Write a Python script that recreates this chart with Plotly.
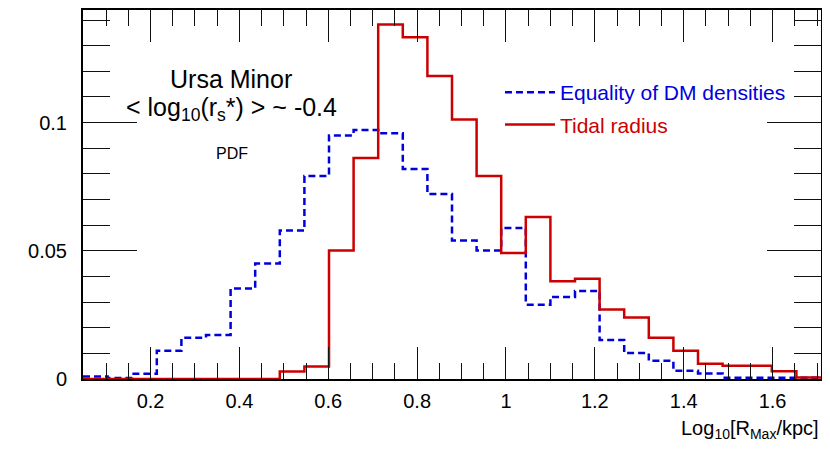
import numpy as np
import plotly.graph_objects as go

# binning of the histograms (30 bins in log10 R_max)
x_min = 0.048
x_max = 1.709
n_bins = 30

# PDF values, one per bin
dm_density = [0.0010, 0.0004, 0.0020, 0.0110, 0.0161, 0.0172, 0.0353, 0.0450,
              0.0579, 0.0792, 0.0950, 0.0971, 0.0958, 0.0819, 0.0721, 0.0540,
              0.0501, 0.0589, 0.0290, 0.0320, 0.0343, 0.0152, 0.0101, 0.0071,
              0.0032, 0.0021, 0.0005, 0.0005, 0.0005, 0.0005]
tidal = [0.0, 0.0, 0.0, 0.0, 0.0, 0.0, 0.0, 0.0,
         0.0029, 0.0049, 0.0501, 0.0862, 0.1382, 0.1333, 0.1182, 0.1012,
         0.0792, 0.0491, 0.0632, 0.0381, 0.0391, 0.0271, 0.0240, 0.0161,
         0.0110, 0.0059, 0.0052, 0.0052, 0.0030, 0.0006]

edges = np.linspace(x_min, x_max, n_bins + 1)

BLUE = '#0000dd'
RED = '#cc0000'


def step_trace(vals, name, color, dash, group):
    """histogram outline drawn as a step line"""
    y = list(vals) + [vals[-1]]
    label = '<span style="color:%s">%s</span>' % (color, name)
    return go.Scatter(x=edges, y=y, mode='lines', name=label, legendgroup=group,
                      line=dict(shape='hv', color=color, width=2.5, dash=dash))


fig = go.Figure()
fig.add_trace(step_trace(dm_density, 'Equality of DM densities', BLUE, '7px,4px', 'dm'))
fig.add_trace(step_trace(tidal, 'Tidal radius', RED, 'solid', 'tidal'))

font = 'Liberation Sans, Arial, sans-serif'
axis_common = dict(showline=True, linecolor='black', linewidth=2, mirror='ticks',
                   ticks='inside', tickcolor='#111', tickwidth=1,
                   showgrid=False, zeroline=False,
                   tickfont=dict(family=font, size=20, color='black'))

fig.update_xaxes(range=[x_min, x_max], tick0=0, dtick=0.2, ticklen=32,
                 minor=dict(dtick=0.05, ticklen=16, tickcolor='#111', ticks='inside'),
                 ticklabelstandoff=3, **axis_common)
fig.update_yaxes(range=[0, 0.1439], tick0=0, dtick=0.05, ticklen=54,
                 minor=dict(dtick=0.01, ticklen=27, tickcolor='#111', ticks='inside'),
                 ticklabelstandoff=10, **axis_common)

fig.add_annotation(text='Log<sub>10</sub>[R<sub>Max</sub>/kpc]', xref='paper', yref='paper',
                   x=1.0, y=-0.138, xanchor='right', yanchor='middle', showarrow=False,
                   font=dict(family=font, size=20, color='black'))
fig.add_annotation(text='Ursa Minor', xref='paper', yref='paper', x=0.201, y=0.812,
                   xanchor='center', yanchor='middle', showarrow=False,
                   font=dict(family=font, size=25, color='black'))
fig.add_annotation(text='< log<sub>10</sub>(r<sub>s</sub>*) > ~ -0.4', xref='paper', yref='paper',
                   x=0.201, y=0.733, xanchor='center', yanchor='middle', showarrow=False,
                   font=dict(family=font, size=25, color='black'))
fig.add_annotation(text='PDF', xref='paper', yref='paper', x=0.202, y=0.612,
                   xanchor='center', yanchor='middle', showarrow=False,
                   font=dict(family=font, size=16, color='black'))

fig.update_layout(
    width=822, height=449,
    margin=dict(l=75, r=9, t=0, b=78),
    plot_bgcolor='white', paper_bgcolor='white',
    legend=dict(x=0.565, y=0.832, xanchor='left', yanchor='top',
                bgcolor='rgba(0,0,0,0)', font=dict(family=font, size=21),
                itemwidth=50, tracegroupgap=2),
    showlegend=True,
)

fig.write_html("out.html")
